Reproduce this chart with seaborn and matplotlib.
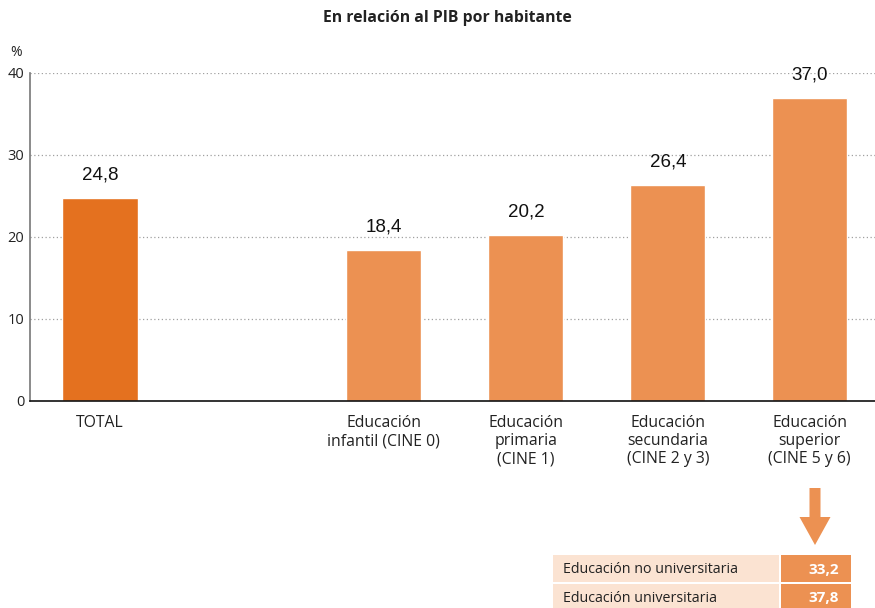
import matplotlib
matplotlib.use("Agg")
import matplotlib.pyplot as plt
import seaborn as sns
import pandas as pd
from matplotlib.patches import Rectangle, FancyArrow

categories = ["TOTAL", "Educación\ninfantil (CINE 0)", "Educación\nprimaria\n(CINE 1)",
              "Educación\nsecundaria\n(CINE 2 y 3)", "Educación\nsuperior\n(CINE 5 y 6)"]
values = [24.8, 18.4, 20.2, 26.4, 37.0]
value_labels = ["24,8", "18,4", "20,2", "26,4", "37,0"]
order = ["TOTAL", " ", categories[1], categories[2], categories[3], categories[4]]
table_rows = ["Educación no universitaria", "Educación universitaria"]
table_values = ["33,2", "37,8"]

total_color = "#E4711F"
bar_color = "#EC9152"
palette = {c: (total_color if c == "TOTAL" else bar_color) for c in categories}

sns.set_theme(style="white")
plt.rcParams['font.family'] = ['Open Sans', 'DejaVu Sans']

W, H = 875, 608
fig = plt.figure(figsize=(W / 100, H / 100), dpi=100)
def fx(px): return px / W
def fy(py): return 1 - py / H

ax = fig.add_axes([fx(30), fy(401), fx(875) - fx(30), fy(73) - fy(401)])
df = pd.DataFrame({"cat": categories, "val": values})
sns.barplot(data=df, x="cat", y="val", order=order, hue="cat", palette=palette,
            width=0.53, legend=False, ax=ax, saturation=1)

ax.set_ylim(0, 40)
ax.set_xlim(-0.493, 5.46)
ax.set_yticks([0, 10, 20, 30, 40])
ax.set_yticklabels(["0", "10", "20", "30", "40"], fontsize=10.5, color="#222222")
ax.set_xticks(range(len(order)))
ax.set_xticklabels(["TOTAL", ""] + categories[1:], fontsize=11.3, color="#222222",
                   linespacing=1.18, va="top")
ax.tick_params(axis="both", length=0, pad=4)
ax.tick_params(axis="x", pad=10)
ax.set_xlabel("")
ax.set_ylabel("")
for y in [10, 20, 30, 40]:
    ax.axhline(y, color="#a0a0a0", linestyle=(0, (1, 2)), linewidth=0.9, zorder=0)
ax.set_axisbelow(True)
for s in ["top", "right"]:
    ax.spines[s].set_visible(False)
ax.spines["left"].set_color("#777777")
ax.spines["left"].set_linewidth(1.2)
ax.spines["bottom"].set_color("#111111")
ax.spines["bottom"].set_linewidth(1.2)

pos = [0, 2, 3, 4, 5]
for p, v, lab in zip(pos, values, value_labels):
    ax.annotate(lab, (p, v), xytext=(0, 16.5), textcoords="offset points",
                ha="center", va="center", fontsize=13.5, family="Liberation Sans",
                color="#111111")

fig.text(fx(447), fy(18), "En relación al PIB por habitante", ha="center", va="center",
         fontsize=11.3, fontweight="bold", color="#222222")
fig.text(fx(16), fy(52), "%", ha="center", va="center", fontsize=10, color="#222222")

# arrow
arr = FancyArrow(fx(815), fy(488), 0, fy(545) - fy(488), width=fx(11), head_width=fx(31),
                 head_length=(fy(517) - fy(545)), length_includes_head=True,
                 transform=fig.transFigure, color=bar_color, linewidth=0)
fig.add_artist(arr)

# table
rows_y = [(555, 582), (584, 610)]
for (y0, y1), name, val in zip(rows_y, table_rows, table_values):
    fig.add_artist(Rectangle((fx(553), fy(y1)), fx(779) - fx(553), fy(y0) - fy(y1),
                             transform=fig.transFigure, facecolor="#FBE3D2", edgecolor="none"))
    fig.add_artist(Rectangle((fx(781), fy(y1)), fx(851) - fx(781), fy(y0) - fy(y1),
                             transform=fig.transFigure, facecolor=bar_color, edgecolor="none"))
    fig.text(fx(563), fy((y0 + y1) / 2 + 1), name, ha="left", va="center",
             fontsize=10.3, color="#222222")
    fig.text(fx(839), fy((y0 + y1) / 2 + 1), val, ha="right", va="center",
             fontsize=11, fontweight="bold", color="white")

fig.savefig("out.png", dpi=100)
